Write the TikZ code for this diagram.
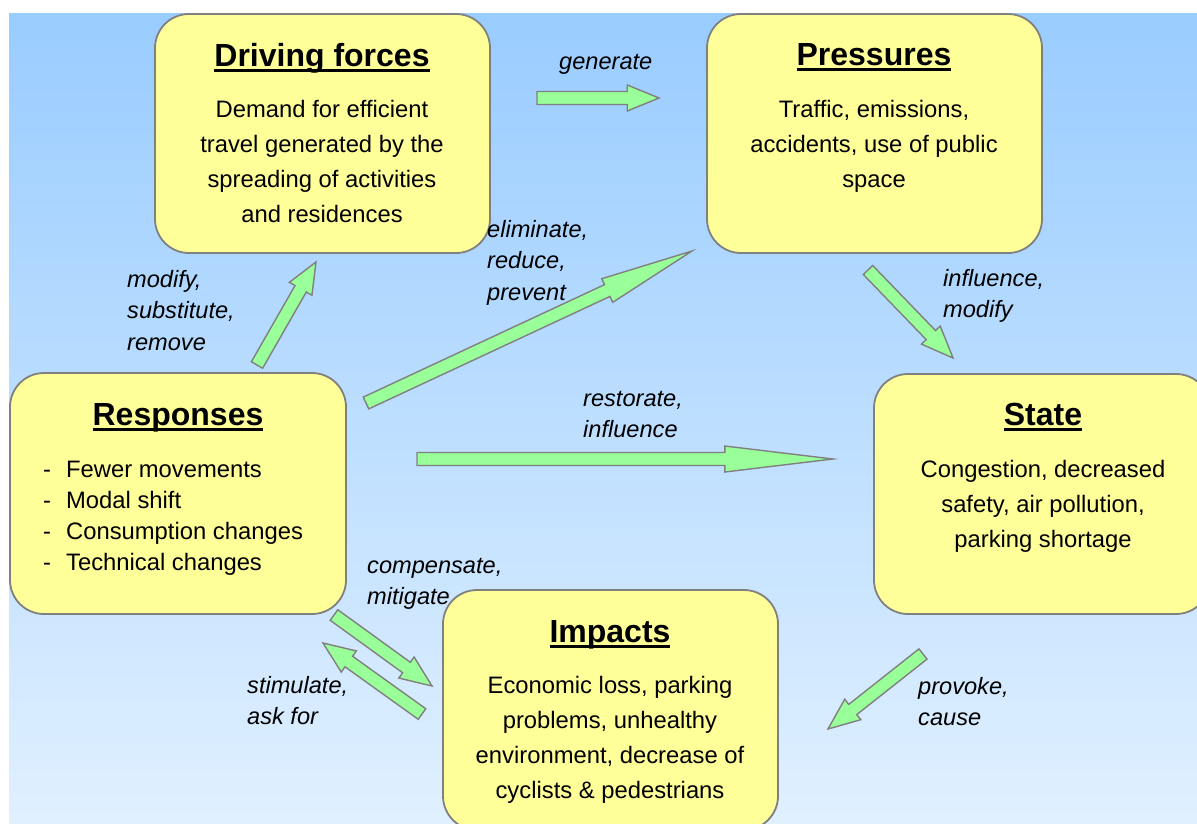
\documentclass[tikz,border=0pt]{standalone}
\usepackage{fontspec}
\setmainfont{Liberation Sans}
\usetikzlibrary{calc}
\definecolor{boxfill}{RGB}{255,255,153}
\definecolor{boxline}{RGB}{128,128,128}
\definecolor{arrfill}{RGB}{153,255,153}
\definecolor{bgtop}{RGB}{153,204,255}
\definecolor{bgbot}{RGB}{224,240,255}
\newcommand{\ttlul}[1]{\setbox0\hbox{#1}\rlap{\rule[-5.5pt]{\wd0}{2.6pt}}\box0}
\newcommand{\ctext}[1]{\begin{tabular}[t]{@{}c@{}}#1\end{tabular}}
\newcommand{\ltext}[1]{\begin{tabular}[t]{@{}l@{}}#1\end{tabular}}
\newcommand{\barrow}[2]{%
  \draw[barr] let \p1=($(#2)-(#1)$), \n1={atan2(\y1,\x1)}, \n2={0.74*veclen(\x1,\y1)} in
    ($(#1)+(\n1+90:6.5pt)$) -- ($(#1)+(\n1:\n2)+(\n1+90:6.5pt)$) -- ($(#1)+(\n1:\n2)+(\n1+90:13pt)$)
    -- (#2) -- ($(#1)+(\n1:\n2)+(\n1-90:13pt)$) -- ($(#1)+(\n1:\n2)+(\n1-90:6.5pt)$)
    -- ($(#1)+(\n1-90:6.5pt)$) -- cycle;}
\tikzset{
  dbox/.style={draw=boxline, line width=1.8pt, fill=boxfill, rounded corners=34pt, inner sep=0pt},
  ttl/.style={font=\fontsize{32}{38}\selectfont\bfseries, anchor=base, inner sep=0pt},
  body/.style={font=\fontsize{23.8}{35}\selectfont, anchor=base, inner sep=0pt},
  lbl/.style={font=\fontsize{23.6}{31.5}\selectfont\itshape, anchor=base west, inner sep=0pt},
  barr/.style={draw=boxline, line width=1.4pt, fill=arrfill, line join=miter}
}
\begin{document}
\begin{tikzpicture}[x=1pt,y=-1pt]
\useasboundingbox (0,0) rectangle (1197,823);
\clip (0,0) rectangle (1197,823);
\shade[top color=bgtop, bottom color=bgbot] (9,13) rectangle (1197,823);

% boxes
\node[dbox, minimum width=335pt, minimum height=239pt] (df) at (322.5,133.5) {};
\node[dbox, minimum width=335pt, minimum height=239pt] (pr) at (874.5,133.5) {};
\node[dbox, minimum width=336pt, minimum height=241pt] (re) at (178,493.5) {};
\node[dbox, minimum width=336pt, minimum height=240pt] (st) at (1042,494) {};
\node[dbox, minimum width=335pt, minimum height=240pt] (im) at (610.5,710) {};

% titles
\node[ttl] (dft) at (322,66) {\ttlul{Driving forces}};
\node[ttl] (prt) at (874,65) {\ttlul{Pressures}};
\node[ttl] (ret) at (178,425) {\ttlul{Responses}};
\node[ttl] (stt) at (1043,425) {\ttlul{State}};
\node[ttl] (imt) at (610,642) {\ttlul{Impacts}};

% body texts
\node[body] (dfb) at (322,117) {\ctext{Demand for efficient\\travel generated by the\\spreading of activities\\and residences}};
\node[body] (prb) at (874,117) {\ctext{Traffic, emissions,\\accidents, use of public\\space}};
\node[body, anchor=base west, font=\fontsize{23.8}{31}\selectfont] (reb) at (43,477)
  {\begin{tabular}[t]{@{}l@{\hspace{15pt}}l@{}}-&Fewer movements\\-&Modal shift\\-&Consumption changes\\-&Technical changes\end{tabular}};
\node[body] (stb) at (1043,477) {\ctext{Congestion, decreased\\safety, air pollution,\\parking shortage}};
\node[body] (imb) at (610,693) {\ctext{Economic loss, parking\\problems, unhealthy\\environment, decrease of\\cyclists \& pedestrians}};

% arrows
\coordinate (genA) at (537,98);  \coordinate (genB) at (659,98);
\coordinate (modA) at (257,365); \coordinate (modB) at (316,262);
\coordinate (eliA) at (366,403); \coordinate (eliB) at (692,251);
\coordinate (infA) at (868,270); \coordinate (infB) at (953,358);
\coordinate (resA) at (417,459); \coordinate (resB) at (833,459);
\coordinate (proA) at (923,654); \coordinate (proB) at (828,729);
\coordinate (comA) at (334,615); \coordinate (comB) at (432,686);
\coordinate (stiA) at (422,714); \coordinate (stiB) at (323,643);
\barrow{genA}{genB}
\barrow{modA}{modB}
\barrow{eliA}{eliB}
\barrow{infA}{infB}
\barrow{resA}{resB}
\barrow{proA}{proB}
\barrow{comA}{comB}
\barrow{stiA}{stiB}

% labels
\node[lbl] (lgen) at (559,69) {generate};
\node[lbl] (lmod) at (127,287) {\ltext{modify,\\substitute,\\remove}};
\node[lbl] (leli) at (487,237) {\ltext{eliminate,\\reduce,\\prevent}};
\node[lbl] (linf) at (943,286) {\ltext{influence,\\modify}};
\node[lbl] (lres) at (583,406) {\ltext{restorate,\\influence}};
\node[lbl] (lcom) at (367,573) {\ltext{compensate,\\mitigate}};
\node[lbl] (lsti) at (247,693) {\ltext{stimulate,\\ask for}};
\node[lbl] (lpro) at (918,694) {\ltext{provoke,\\cause}};
\end{tikzpicture}
\end{document}
